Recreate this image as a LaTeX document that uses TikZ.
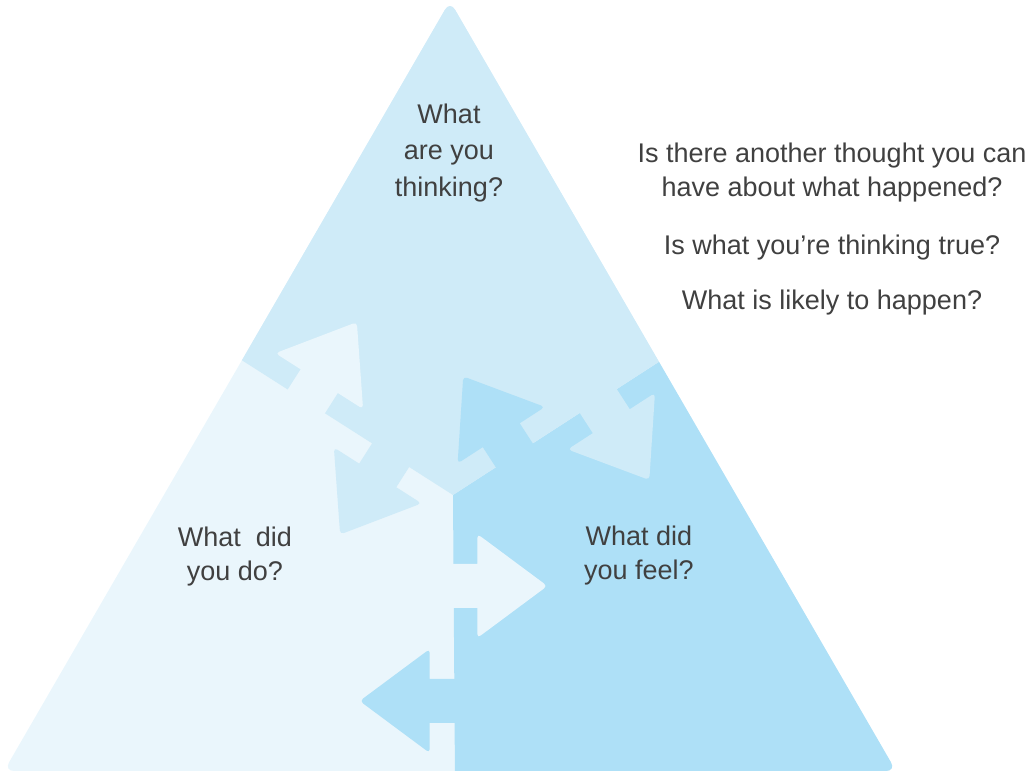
\documentclass[tikz,border=0pt]{standalone}
\usepackage{fontspec}
\setmainfont{Liberation Sans}
\usetikzlibrary{calc}

\definecolor{topblue}{RGB}{207,235,248}
\definecolor{leftblue}{RGB}{234,246,252}
\definecolor{rightblue}{RGB}{174,224,247}
\definecolor{textgray}{RGB}{64,64,64}

\begin{document}
\begin{tikzpicture}[x=1pt, y=1pt,
    lbl/.style={align=center, text=textgray, font=\fontsize{27}{34.5}\selectfont, anchor=base, inner sep=0pt},
    tab/.style={line join=round}
]
\useasboundingbox (0,0) rectangle (1034,771);

% triangle corners and the meeting point of the three parts
\coordinate (A) at (450,770);
\coordinate (BL) at (4,0);
\coordinate (BR) at (896,0);
\coordinate (O) at (453,276);
\coordinate (L) at (241.5,411);
\coordinate (R) at (658.7,409);
\coordinate (B) at (454,0);

\begin{scope}
\clip[rounded corners=10pt] (A) -- (BL) -- (BR) -- cycle;
\fill[leftblue] (0,0) rectangle (1034,771);
\fill[rightblue] (O) -- (455,-10) -- (1000,-10) -- ($(O)!650pt!(R)$) -- cycle;
\fill[topblue] (O) -- ($(O)!650pt!(R)$) -- ++(0,400) -- ($(O)!650pt!(L)$) -- cycle;

% arrow tabs across the borders
\foreach \d/\from/\ang/\col in {174/L/57.5/leftblue, 74/L/237.5/topblue,
                                73/R/122.9/rightblue, 173/R/302.9/topblue,
                                91/B/0/leftblue, 206/B/180/rightblue}
  \fill[\col, tab, shift={($(O)!\d pt!(\from)$)}, rotate=\ang]
    (-4,-22) -- (24,-22) [rounded corners=4pt] -- (24,-52) -- (94,0) -- (24,52)
    [sharp corners] -- (24,22) -- (-4,22) -- cycle;
\end{scope}

% base anchor sits on the last line
\node[lbl, font=\fontsize{27}{36.7}\selectfont] (think) at (449,574.3) {What\\are you\\thinking?};
\node[lbl] (do) at (235,190.3) {What\ \ did\\you do?};
\node[lbl] (feel) at (639,191) {What did\\you feel?};

\node[lbl] (q1) at (832,574) {Is there another thought you can\\have about what happened?};
\node[lbl] (q2) at (832,516) {Is what you’re thinking true?};
\node[lbl] (q3) at (832,461) {What is likely to happen?};
\end{tikzpicture}
\end{document}
